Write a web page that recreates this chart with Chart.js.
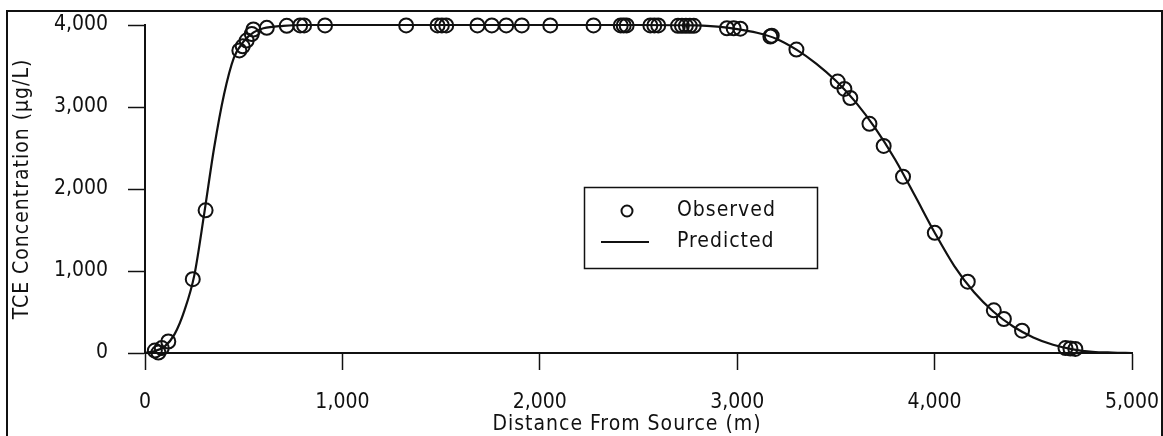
<!DOCTYPE html>
<html>
<head>
<meta charset="utf-8">
<script src="https://cdn.jsdelivr.net/npm/chart.js@4"></script>
<style>
  html, body { margin: 0; padding: 0; background: #fff; }
  #wrap { width: 1163px; height: 436px; position: relative; }
</style>
</head>
<body>
<div id="wrap"><canvas id="myChart"></canvas></div>
<script>
// observed wells (distance m, TCE ug/L)
var obs_x = [50, 68, 85, 118, 242, 307, 478, 495, 515, 541, 549, 617, 718, 786, 806, 912,
    1323, 1482, 1504, 1526, 1684, 1757, 1830, 1909, 2053, 2272, 2410, 2425, 2440,
    2560, 2580, 2600, 2700, 2720, 2740, 2760, 2780, 2948, 2982, 3016,
    3168, 3175, 3300, 3509, 3543, 3573, 3670, 3742, 3840, 4001, 4168, 4300, 4351, 4443,
    4663, 4688, 4713];
var obs_y = [30, 5, 60, 140, 900, 1740, 3690, 3740, 3810, 3890, 3945, 3965, 3990, 3995, 3995, 3995,
    3995, 3995, 3995, 3995, 3995, 3995, 3995, 3995, 3995, 3995, 3995, 3995, 3995,
    3995, 3995, 3995, 3990, 3990, 3990, 3990, 3990, 3960, 3960, 3955,
    3860, 3870, 3700, 3310, 3220, 3110, 2795, 2525, 2150, 1465, 870, 520, 415, 272,
    60, 55, 50];

// predicted curve
var pred_x = [0, 50, 100, 150, 200, 250, 300, 350, 400, 450, 500, 550, 600, 700, 800,
    1500, 2500, 2800, 2900, 3000, 3100, 3200, 3300, 3400, 3500, 3600, 3700, 3800, 3900,
    4000, 4100, 4200, 4300, 4400, 4500, 4600, 4700, 4800, 4900, 5000];
var pred_y = [0, 25, 80, 230, 520, 950, 1700, 2500, 3150, 3600, 3800, 3910, 3960, 3990, 4000,
    4000, 4000, 3995, 3980, 3950, 3905, 3830, 3700, 3530, 3320, 3060, 2740, 2360, 1920,
    1470, 1060, 740, 500, 320, 190, 100, 45, 15, 5, 0];

var x_ticks = [0, 1000, 2000, 3000, 4000, 5000];
var y_ticks = [0, 1000, 2000, 3000, 4000];
var x_title = 'Distance From Source (m)';
var y_title = 'TCE Concentration (µg/L)';
var legend_labels = ['Observed', 'Predicted'];

var FONT = "'DejaVu Sans Condensed', 'Liberation Sans Narrow', 'Liberation Sans', Arial, sans-serif";
var INK = '#111';

function pairs(xs, ys) {
    var out = [];
    for (let i = 0; i < xs.length; i++) out.push({x: xs[i], y: ys[i]});
    return out;
}

// frame round the whole figure, axis titles, boxed legend
const framePlugin = {
    id: 'frame',
    afterDraw(chart) {
        const c = chart.ctx;
        const area = chart.chartArea;
        c.save();
        c.strokeStyle = INK;
        c.fillStyle = INK;
        c.lineWidth = 2;
        c.strokeRect(7, 11, 1155, 500);

        c.font = '21px ' + FONT;
        c.letterSpacing = '1px';
        c.textBaseline = 'middle';
        c.textAlign = 'center';
        c.fillText(x_title, 627, 425);
        c.save();
        c.translate(23, (area.top + area.bottom) / 2);
        c.rotate(-Math.PI / 2);
        c.fillText(y_title, 0, 0);
        c.restore();

        c.lineWidth = 1.5;
        c.strokeRect(584.5, 187.5, 233, 81);
        c.lineWidth = 2;
        c.beginPath();
        c.arc(627, 211, 5.5, 0, Math.PI * 2);
        c.stroke();
        c.beginPath();
        c.moveTo(601, 242);
        c.lineTo(649, 242);
        c.stroke();
        c.textAlign = 'left';
        c.fillText(legend_labels[0], 677, 211);
        c.fillText(legend_labels[1], 677, 242);
        c.restore();
    }
};

const ctx = document.getElementById('myChart').getContext('2d');
const myChart = new Chart(ctx, {
    type: 'scatter',
    data: {
        datasets: [{
            label: legend_labels[0],
            data: pairs(obs_x, obs_y),
            pointStyle: 'circle',
            pointRadius: 7,
            pointBorderWidth: 2,
            pointBorderColor: INK,
            pointBackgroundColor: 'rgba(0,0,0,0)',
            showLine: false,
            clip: false
        }, {
            label: legend_labels[1],
            data: pairs(pred_x, pred_y),
            showLine: true,
            borderColor: INK,
            borderWidth: 2.2,
            pointRadius: 0,
            cubicInterpolationMode: 'monotone',
            clip: false
        }]
    },
    options: {
        responsive: true,
        maintainAspectRatio: false,
        animation: false,
        layout: { padding: { left: 0, top: 25, right: 31, bottom: 0 } },
        plugins: {
            legend: { display: false },
            tooltip: { enabled: false }
        },
        scales: {
            x: {
                type: 'linear',
                min: 0, max: 5000,
                afterFit: function (scale) {
                    scale.height = 83;
                    scale.paddingLeft = 0;
                    scale.paddingRight = 0;
                },
                afterBuildTicks: function (scale) {
                    scale.ticks = x_ticks.map(v => ({value: v}));
                },
                grid: { drawOnChartArea: false, tickLength: 17, tickWidth: 1.5, tickColor: INK },
                border: { color: INK, width: 2 },
                ticks: {
                    color: INK, padding: 20, maxRotation: 0,
                    font: { family: FONT, size: 21 },
                    callback: v => v.toLocaleString('en-US')
                }
            },
            y: {
                type: 'linear',
                min: 0, max: 4000,
                afterFit: function (scale) {
                    scale.width = 145;
                    scale.paddingTop = 0;
                    scale.paddingBottom = 0;
                },
                afterBuildTicks: function (scale) {
                    scale.ticks = y_ticks.map(v => ({value: v}));
                },
                grid: { drawOnChartArea: false, tickLength: 17, tickWidth: 1.5, tickColor: INK },
                border: { color: INK, width: 2 },
                ticks: {
                    color: INK, padding: 20,
                    font: { family: FONT, size: 21 },
                    callback: v => v.toLocaleString('en-US')
                }
            }
        }
    },
    plugins: [framePlugin]
});
</script>
</body>
</html>
